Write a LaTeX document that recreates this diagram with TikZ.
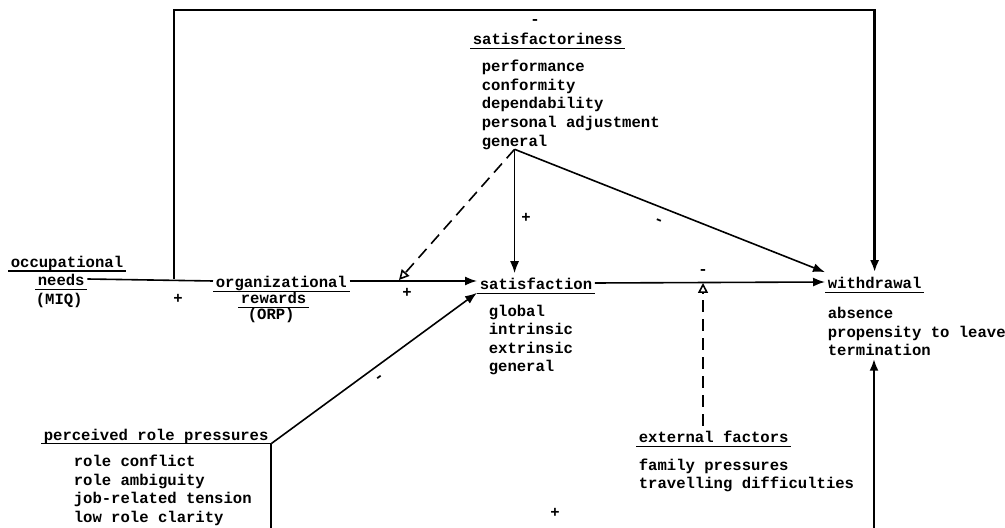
\documentclass[tikz,border=0pt]{standalone}
\usepackage{fontspec}
\setmonofont{Liberation Mono}
\usetikzlibrary{arrows.meta}

\begin{document}
\begin{tikzpicture}[x=0.5pt,y=-0.5pt,->,>={Latex[length=6pt,width=4.5pt]},thick,
    every node/.style={font=\ttfamily\bfseries\fontsize{7.8}{9.4}\selectfont,inner xsep=1pt,inner ysep=1pt,text height=7pt,text depth=0pt,anchor=base west},
    sign/.style={anchor=center,text height=4pt},
    dashline/.style={dash pattern=on 6pt off 3.5pt},
    hollow/.style={-{Triangle[open,length=5pt,width=5pt]}}]
    \useasboundingbox (0,0) rectangle (1005,528);

    % satisfactoriness
    \node (sfy) at (470,45) {satisfactoriness};
    \foreach \t [count=\i] in {performance,conformity,dependability,personal adjustment,general}
      \node (sfy\i) at (479,{71.5+18.75*(\i-1)}) {\t};

    % needs and rewards
    \node (occ) at (8,267.5) {occupational};
    \node (need) at (35,286) {needs};
    \node (miq) at (33,305) {(MIQ)};
    \node (org) at (213,288) {organizational};
    \node (rew) at (238,304) {rewards};
    \node (orp) at (245,320) {(ORP)};

    % satisfaction
    \node (sat) at (477,290) {satisfaction};
    \foreach \t [count=\i] in {global,intrinsic,extrinsic,general}
      \node (sat\i) at (486,{316.5+18.5*(\i-1)}) {\t};

    % withdrawal
    \node (wd) at (825,289) {withdrawal};
    \foreach \t [count=\i] in {absence,propensity to leave,termination}
      \node (wd\i) at (825,{318.5+18.7*(\i-1)}) {\t};

    % perceived role pressures
    \node (prp) at (41,440) {perceived role pressures};
    \foreach \t [count=\i] in {role conflict,role ambiguity,job-related tension,low role clarity}
      \node (prp\i) at (71,{466.5+18.7*(\i-1)}) {\t};

    % external factors
    \node (ext) at (636,442.5) {external factors};
    \foreach \t [count=\i] in {family pressures,travelling difficulties}
      \node (ext\i) at (636,{470.5+18*(\i-1)}) {\t};

    % signs
    \node[sign] (m0) at (535,21) {-};
    \node[sign] (p0) at (178,300) {+};
    \node[sign] (p1) at (526,219) {+};
    \node[sign,rotate=-22] (m1) at (659,221) {-};
    \node[sign] (p2) at (407,294) {+};
    \node[sign] (m2) at (703,271) {-};
    \node[sign,rotate=36] (m3) at (379,378) {-};
    \node[sign] (p3) at (555,513) {+};

    \coordinate (tl) at (174,10);
    \coordinate (j) at (tl |- need.east);
    \coordinate (d) at (399,280);
    \coordinate (c) at ([yshift=-1.8pt]prp.base east);
    \coordinate (bl) at (c |- 0,528);
    \coordinate (br) at (874,528);

    \foreach \n in {sfy,occ,need,org,rew,sat,wd,prp,ext}
      \draw[-,semithick] ([yshift=-1.8pt]\n.base west) -- ([yshift=-1.8pt]\n.base east);

    \draw[-] (need.east) -- (org.west);
    \draw[very thick] (j) -- (tl) -| (wd.north);
    \draw (org.east) -- (org.east -| sat.west);
    \draw (sfy5.south) -- (sfy5.south |- sat.north);
    \draw (sfy5.south) -- (wd.north west);
    \draw[dashline,hollow] (sfy5.south) -- (d);
    \draw (sat.east) -- (wd.west);
    \draw[dashline,hollow] (ext.north -| m2) -- (m2 |- sat.east);
    \draw (c) -- (sat.south west);
    \draw[-,very thick] (c) -- (bl);
    \draw[very thick] (br) -- (br |- wd3.south);
\end{tikzpicture}
\end{document}
